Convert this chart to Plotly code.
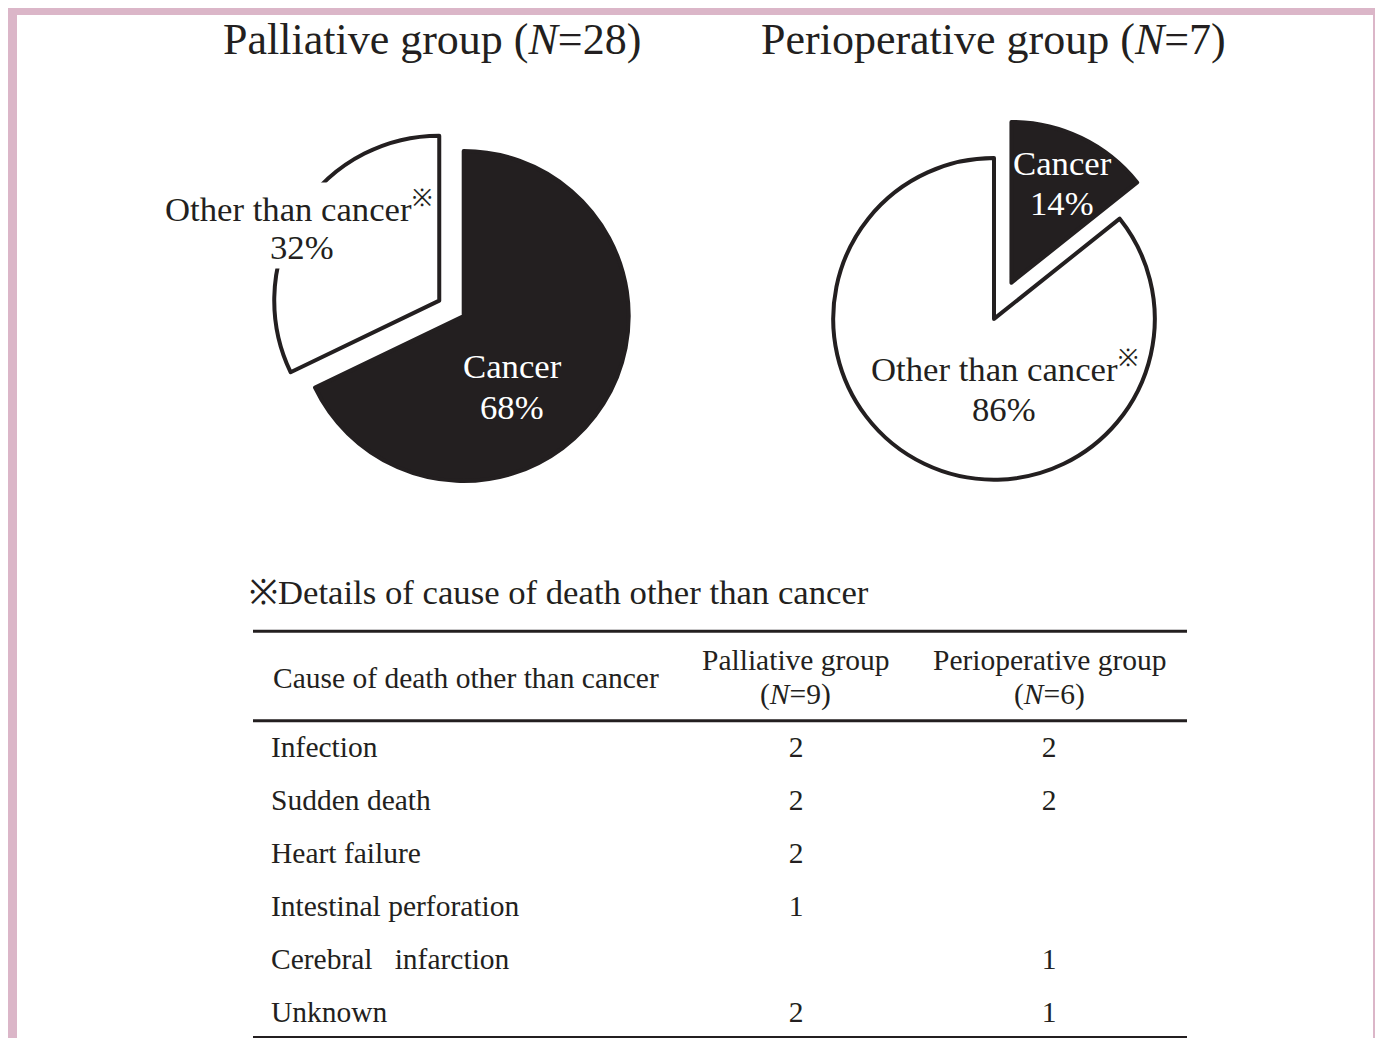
import plotly.graph_objects as go

# ---------------- data ----------------
pie_labels = ["Cancer", "Other than cancer"]
palliative_counts = [19, 9]      # N=28
perioperative_counts = [1, 6]    # N=7

causes = ["Infection", "Sudden death", "Heart failure", "Intestinal perforation",
          "Cerebral\u00a0\u00a0 infarction", "Unknown"]
palliative_other = [2, 2, 2, 1, None, 2]      # N=9
perioperative_other = [2, 2, None, None, 1, 1]  # N=6

# ---------------- style ----------------
W, H = 1383, 1038
OFF = 8  # page body margin of the html page
INK = "#231f20"
PINK = "#dbb6c8"
SERIF = "Liberation Serif, Times New Roman, serif"


def px(x):
    return (x - OFF) / W


def py(y):
    return 1 - (y - OFF) / H


def domain(cx, cy, half):
    return dict(x=[px(cx - half), px(cx + half)], y=[py(cy + half), py(cy - half)])


def pct(vals):
    s = sum(vals)
    return [f"{round(v / s * 100)}%" for v in vals]


fig = go.Figure()

fig.add_trace(go.Pie(
    labels=pie_labels, values=palliative_counts, sort=False, direction="clockwise",
    rotation=0, pull=[0, 0.175], textinfo="none", textposition="none",
    hoverinfo="label+value",
    marker=dict(colors=[INK, "white"], line=dict(color=INK, width=4)),
    domain=domain(463.7, 316, 165 * 1.175), showlegend=False,
))
fig.add_trace(go.Pie(
    labels=pie_labels, values=perioperative_counts, sort=False, direction="clockwise",
    rotation=0, pull=[0.25, 0], textinfo="none", textposition="none",
    hoverinfo="label+value",
    marker=dict(colors=[INK, "white"], line=dict(color=INK, width=4)),
    domain=domain(994, 318.9, 160.8 * 1.25), showlegend=False,
))

# ---------------- table cells (through a hidden axis) ----------------
TFS = 29.5
COL1, COL2, COL3 = px(271), px(796), px(1049)
rows = list(range(len(causes)))
fig.add_trace(go.Scatter(
    x=[COL1] * len(causes), y=rows, mode="text", text=causes,
    textposition="middle right", textfont=dict(family=SERIF, size=TFS, color=INK),
    hoverinfo="skip", showlegend=False, cliponaxis=False,
))
for col, vals in ((COL2, palliative_other), (COL3, perioperative_other)):
    r = [i for i, v in enumerate(vals) if v is not None]
    fig.add_trace(go.Scatter(
        x=[col] * len(r), y=r, mode="text", text=[str(vals[i]) for i in r],
        textposition="middle center", textfont=dict(family=SERIF, size=TFS, color=INK),
        hoverinfo="skip", showlegend=False, cliponaxis=False,
    ))

annotations = []


def ann(text, x, y, size, color=INK, xanchor="center", bg=None):
    d = dict(text=text, x=px(x), y=py(y), xref="paper", yref="paper",
             xanchor=xanchor, yanchor="middle", showarrow=False,
             font=dict(family=SERIF, size=size, color=color))
    if bg:
        d["bgcolor"] = bg
    annotations.append(d)


# titles
ann(f"Palliative group (<i>N</i>={sum(palliative_counts)})", 432, 40, 44)
ann(f"Perioperative group (<i>N</i>={sum(perioperative_counts)})", 994, 40, 44)

# pie labels
LFS = 34.7
pl = pct(palliative_counts)
pe = pct(perioperative_counts)
ann(pie_labels[1] + "<sup>※</sup>", 298, 207, LFS, bg="white")
ann(pl[1], 302, 247, LFS, bg="white")
ann(pie_labels[0], 512, 367, LFS, color="white")
ann(pl[0], 512, 408, LFS, color="white")
ann(pie_labels[0], 1062, 163, LFS, color="white")
ann(pe[0], 1062, 203, LFS, color="white")
ann(pie_labels[1] + "<sup>※</sup>", 1004, 366, LFS)
ann(pe[1], 1004, 409, LFS)

# table title and header
ann("※Details of cause of death other than cancer", 247, 592, 34.7, xanchor="left")
ann("Cause of death other than cancer", 271, 678, TFS, xanchor="left")
ann("Palliative group", 796, 660, TFS)
ann(f"(<i>N</i>={sum(v for v in palliative_other if v)})", 796, 694, TFS)
ann("Perioperative group", 1049, 660, TFS)
ann(f"(<i>N</i>={sum(v for v in perioperative_other if v)})", 1049, 694, TFS)

shapes = []
# table rules
for yy in (631.3, 720.8, 1037.5):
    shapes.append(dict(type="line", xref="paper", yref="paper",
                       x0=px(253), x1=px(1187), y0=py(yy), y1=py(yy),
                       line=dict(color=INK, width=3)))
# pink frame
for (x0, y0, x1, y1) in [(8, 7, 1390, 15), (8, 7, 17, 1046), (1373, 7, 1390, 1046)]:
    shapes.append(dict(type="rect", xref="paper", yref="paper",
                       x0=px(x0), x1=px(x1), y0=py(y0), y1=py(y1),
                       fillcolor=PINK, line=dict(width=0)))

# row r of the table sits at pixel 748 + 53*r (before the page offset)
y_top_px, y_bot_px = 695, 1038 + OFF
fig.update_layout(
    width=W, height=H, margin=dict(l=0, r=0, t=0, b=0),
    paper_bgcolor="white", plot_bgcolor="rgba(0,0,0,0)",
    xaxis=dict(domain=[0, 1], range=[0, 1], visible=False, fixedrange=True),
    yaxis=dict(domain=[0, py(y_top_px)],
               range=[(y_bot_px - 2 - 748) / 53, (y_top_px - 2 - 748) / 53],
               visible=False, fixedrange=True),
    annotations=annotations, shapes=shapes, showlegend=False,
)

fig.write_html("out.html")
